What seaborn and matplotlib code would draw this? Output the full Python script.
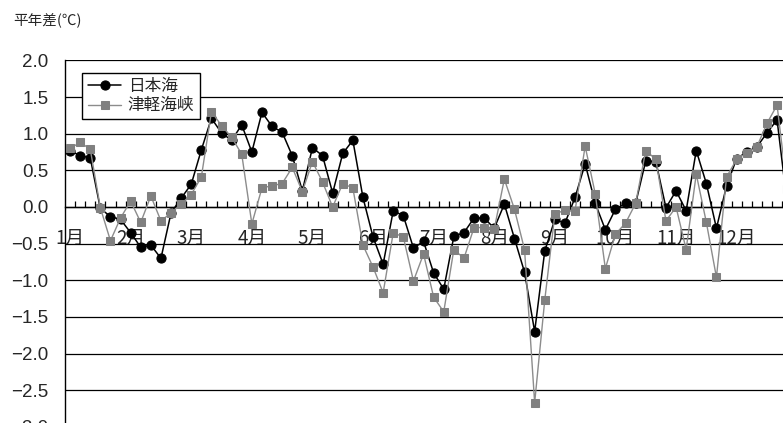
import numpy as np
import pandas as pd
import matplotlib
matplotlib.use("Agg")
import matplotlib.pyplot as plt
import seaborn as sns

# =========================
# DATA (半旬ごとの平年差, ℃)
# =========================

months = ["1月", "2月", "3月", "4月", "5月", "6月",
          "7月", "8月", "9月", "10月", "11月", "12月"]

nihonkai = [
    0.77, 0.70, 0.67, -0.02, -0.13, -0.17,
    -0.35, -0.55, -0.52, -0.70, -0.08, 0.12,
    0.31, 0.78, 1.21, 1.01, 0.91, 1.12,
    0.75, 1.29, 1.10, 1.02, 0.70, 0.22,
    0.81, 0.70, 0.19, 0.73, 0.91, 0.13,
    -0.41, -0.78, -0.05, -0.12, -0.56, -0.47,
    -0.90, -1.12, -0.40, -0.35, -0.15, -0.15,
    -0.29, 0.04, -0.43, -0.89, -1.70, -0.60,
    -0.17, -0.22, 0.13, 0.59, 0.05, -0.31,
    -0.03, 0.05, 0.05, 0.63, 0.62, -0.01,
    0.22, -0.05, 0.77, 0.32, -0.29, 0.29,
    0.66, 0.75, 0.82, 1.01, 1.19, 0.05,
]

tsugaru = [
    0.80, 0.88, 0.79, -0.01, -0.46, -0.15,
    0.08, -0.21, 0.15, -0.19, -0.08, 0.04,
    0.17, 0.41, 1.30, 1.11, 0.95, 0.72,
    -0.23, 0.26, 0.29, 0.32, 0.54, 0.21,
    0.62, 0.34, 0.00, 0.32, 0.26, -0.52,
    -0.82, -1.17, -0.35, -0.41, -1.01, -0.64,
    -1.23, -1.43, -0.58, -0.70, -0.28, -0.28,
    -0.30, 0.38, -0.03, -0.58, -2.67, -1.27,
    -0.10, -0.04, -0.05, 0.83, 0.18, -0.84,
    -0.37, -0.22, 0.05, 0.77, 0.65, -0.19,
    0.00, -0.58, 0.45, -0.21, -0.96, 0.41,
    0.65, 0.74, 0.82, 1.14, 1.39, 0.25,
]

pentad = np.arange(len(nihonkai))

df = pd.DataFrame({
    "pentad": pentad,
    "日本海": nihonkai,
    "津軽海峡": tsugaru,
})

# =========================
# STYLE
# =========================

sns.set_style("white")
plt.rcParams["font.family"] = ["Liberation Sans", "Noto Sans CJK JP", "DejaVu Sans"]
plt.rcParams["axes.unicode_minus"] = True

W, H = 783, 423
fig = plt.figure(figsize=(W / 100, H / 100), dpi=100)

# axes runs a bit past the right and bottom edge, like the cropped original
left_px, top_px = 65, 60.4
step_px = 10.1
ax_w = 72 * step_px
ax_h = 5 * 73.3
ax = fig.add_axes([left_px / W, 1 - (top_px + ax_h) / H, ax_w / W, ax_h / H])

# =========================
# PLOT
# =========================

sns.lineplot(
    data=df, x="pentad", y="日本海", ax=ax,
    color="black", linewidth=1.1,
    marker="o", markersize=6.6, markeredgecolor="black",
    markerfacecolor="black", label="日本海", zorder=3
)

sns.lineplot(
    data=df, x="pentad", y="津軽海峡", ax=ax,
    color="#8c8c8c", linewidth=1.0,
    marker="s", markersize=5.8, markeredgecolor="#808080",
    markerfacecolor="#808080", label="津軽海峡", zorder=4
)

ax.set_xlim(-0.5, 71.5)
ax.set_ylim(-3.0, 2.0)

# horizontal grid
yt = np.arange(-3.0, 2.01, 0.5)
ax.set_yticks(yt)
ax.set_yticklabels([f"{v:.1f}".replace("-", "\u2212") for v in yt])
for v in yt:
    ax.axhline(v, color="black", linewidth=0.9, zorder=1)

# x axis sits on the zero line
for s in ["top", "right"]:
    ax.spines[s].set_visible(False)
ax.spines["left"].set_color("black")
ax.spines["left"].set_linewidth(1.0)
ax.spines["bottom"].set_position(("data", 0))
ax.spines["bottom"].set_color("black")
ax.spines["bottom"].set_linewidth(1.0)

ax.set_xticks(np.arange(0, 72, 6))
ax.set_xticklabels(months, family=["Noto Sans CJK JP", "DejaVu Sans"])
ax.set_xticks(np.arange(0.5, 71.5, 1), minor=True)
ax.tick_params(axis="x", which="major", length=0, pad=15, labelsize=13.5)
ax.tick_params(axis="x", which="minor", direction="in", length=4,
               width=0.9, color="black", bottom=True)
ax.tick_params(axis="y", length=0, pad=12, labelsize=13.5)

ax.set_xlabel("")
ax.set_ylabel("")

# =========================
# LEGEND / TITLE
# =========================

leg = ax.legend(
    loc="upper left",
    bbox_to_anchor=(82 / W, 1 - 73 / H),
    bbox_transform=fig.transFigure,
    borderaxespad=0,
    fontsize=12,
    frameon=True,
    fancybox=False,
    edgecolor="black",
    framealpha=1,
    handlelength=2.0,
    handletextpad=0.4,
    labelspacing=0.25,
    borderpad=0.35,
)
leg.get_frame().set_linewidth(1.0)

fig.text(13 / W, 1 - 20 / H, "平年差(℃)", fontsize=10.5, va="center", ha="left",
         family=["Noto Sans CJK JP", "DejaVu Sans"])

fig.savefig("out.png", dpi=100)
